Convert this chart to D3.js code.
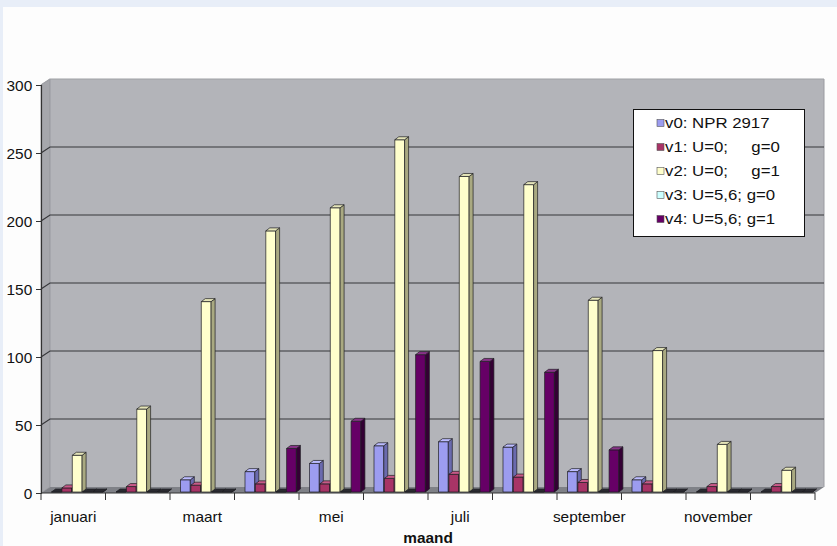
<!DOCTYPE html>
<html>
<head>
<meta charset="utf-8">
<script src="https://cdn.jsdelivr.net/npm/d3@7"></script>
<style>
  body { margin: 0; background: #fdfdfd; }
  svg { display: block; }
  text { font-family: Arial, "Liberation Sans", sans-serif; fill: #111; }
</style>
</head>
<body>
<script>
const months = ["januari", "februari", "maart", "april", "mei", "juni", "juli",
                "augustus", "september", "oktober", "november", "december"];
const seriesKeys = ["v0", "v1", "v2", "v3", "v4"];
const seriesNames = ["v0: NPR 2917", "v1: U=0;     g=0", "v2: U=0;     g=1",
                     "v3: U=5,6; g=0", "v4: U=5,6; g=1"];
const v0 = [0, 0, 9, 15, 21, 34, 37, 33, 15, 9, 0, 0];
const v1 = [3, 4, 5, 6, 6, 10, 13, 11, 7, 6, 4, 4];
const v2 = [27, 61, 140, 192, 209, 259, 232, 226, 141, 104, 35, 16];
const v3 = [0, 0, 0, 0, 0, 0, 0, 0, 0, 0, 0, 0];
const v4 = [0, 0, 0, 32, 52, 101, 96, 88, 31, 0, 0, 0];
const yTicks = [0, 50, 100, 150, 200, 250, 300];

const width = 837, height = 546;
const colors = {
  v0: ["#9c9cf0", "#6a6aae", "#bcbcff"],
  v1: ["#a83466", "#6c1f42", "#c85a88"],
  v2: ["#ffffcc", "#a9a981", "#e4e4b8"],
  v3: ["#ccffff", "#8fb0b0", "#e4ffff"],
  v4: ["#660066", "#340034", "#883388"]
};

window.onload = main;

function main() {
  const values = {v0, v1, v2, v3, v4};
  const svg = d3.select("body").append("svg")
    .attr("width", width).attr("height", height);

  // frame
  svg.append("rect").attr("x", 0).attr("y", 0).attr("width", width).attr("height", 7).attr("fill", "#e8eef8");
  svg.append("rect").attr("x", 0).attr("y", 0).attr("width", 3).attr("height", height).attr("fill", "#e8eef8");

  const x = d3.scaleBand().domain(months).range([41, 815]);
  const inner = d3.scaleBand().domain(seriesKeys).range([10.5, 62.5]);
  const y = d3.scaleLinear().domain([0, 300]).range([493, 85]);
  const dX = 9, dY = 6;   // wall depth

  // walls
  const y0 = y(0), yTop = y(300);
  svg.append("path")
    .attr("d", `M${41 + dX},${yTop - dY}H${815 + dX}V${y0 - dY}H${41 + dX}Z`)
    .attr("fill", "#b3b4b9");
  svg.append("path")
    .attr("d", `M41,${yTop}L${41 + dX},${yTop - dY}V${y0 - dY}L41,${y0}Z`)
    .attr("fill", "#a6a7ac").attr("stroke", "#8a8b90").attr("stroke-width", 0.6);
  svg.append("path")
    .attr("d", `M41,${y0}L${41 + dX},${y0 - dY}H${815 + dX}L815,${y0}Z`)
    .attr("fill", "#7f8187");
  svg.append("path")
    .attr("d", `M${815 + dX},${yTop - dY}V${y0 - dY}`)
    .attr("stroke", "#9a9ba0").attr("stroke-width", 1);

  // gridlines
  svg.append("g").selectAll("path")
    .data(yTicks.filter(d => d > 0))
    .join("path")
    .attr("d", d => `M41,${y(d)}L${41 + dX},${y(d) - dY}H${815 + dX}`)
    .attr("fill", "none")
    .attr("stroke", d => d === 300 ? "#a0a1a6" : "#36373a")
    .attr("stroke-width", 1.2);

  // bars
  const bx = 0, by = -1;   // bars stand slightly behind the front edge
  const ddx = 4, ddy = 3;
  const bw = inner.bandwidth() - 0.6;
  const bars = [];
  months.forEach((m, i) => {
    seriesKeys.forEach(k => {
      bars.push({m, k, v: values[k][i]});
    });
  });
  const g = svg.append("g");
  bars.forEach(b => {
    const x0 = x(b.m) + inner(b.k) + bx;
    const x1 = x0 + bw;
    const bot = y(0) + by;
    const top = y(b.v) + by;
    const c = colors[b.k];
    const bg = g.append("g").attr("stroke", "#1e1e22").attr("stroke-width", 0.7).attr("stroke-linejoin", "round");
    bg.append("path").attr("d", `M${x0},${bot}V${top}H${x1}V${bot}Z`).attr("fill", c[0]);
    bg.append("path").attr("d", `M${x1},${bot}V${top}L${x1 + ddx},${top - ddy}V${bot - ddy}Z`).attr("fill", c[1]);
    bg.append("path").attr("d", `M${x0},${top}L${x0 + ddx},${top - ddy}H${x1 + ddx}L${x1},${top}Z`)
      .attr("fill", b.v === 0 ? "#2a2a30" : c[2]);
  });

  // y axis
  const yAxis = svg.append("g").attr("transform", "translate(41,0)")
    .call(d3.axisLeft(y).tickValues(yTicks).tickSize(5).tickPadding(3));
  yAxis.select(".domain").attr("stroke", "#333").attr("stroke-width", 1.2);
  yAxis.selectAll(".tick line").attr("stroke", "#333");
  yAxis.selectAll(".tick text")
    .attr("font-size", 14).attr("dy", "0.36em")
    .attr("transform", "scale(1.1,1)")
    .style("font-family", "Arial, 'Liberation Sans', sans-serif").attr("fill", "#111");

  // x axis
  svg.append("path").attr("d", `M41,${y0}H815`).attr("stroke", "#333").attr("stroke-width", 1.2);
  const bounds = months.map(m => x(m)).concat([x(months[11]) + x.bandwidth()]);
  svg.append("g").selectAll("line")
    .data(bounds).join("line")
    .attr("x1", d => d).attr("x2", d => d)
    .attr("y1", y0).attr("y2", y0 + 7)
    .attr("stroke", "#333");
  svg.append("g").selectAll("text")
    .data(months.filter((m, i) => i % 2 === 0))
    .join("text")
    .attr("transform", m => `translate(${x(m) + x.bandwidth() / 2},522) scale(1.1,1)`)
    .attr("text-anchor", "middle")
    .attr("font-size", 14)
    .text(m => m);
  svg.append("text")
    .attr("transform", `translate(${(41 + 815) / 2},543) scale(1.1,1)`)
    .attr("text-anchor", "middle")
    .attr("font-size", 14).attr("font-weight", "bold")
    .text("maand");

  // legend
  const lg = svg.append("g");
  lg.append("rect").attr("x", 633.5).attr("y", 109.5).attr("width", 171).attr("height", 127)
    .attr("fill", "#fff").attr("stroke", "#111").attr("stroke-width", 1);
  const items = lg.selectAll("g.item")
    .data(seriesKeys)
    .join("g").attr("class", "item")
    .attr("transform", (d, i) => `translate(657,${123 + i * 24})`);
  items.append("rect").attr("x", 0).attr("y", -3.5).attr("width", 7).attr("height", 7)
    .attr("fill", d => colors[d][0]).attr("stroke", "#555").attr("stroke-width", 0.6);
  items.append("text")
    .attr("transform", "translate(8,5) scale(1.2,1)")
    .attr("font-size", 14)
    .style("white-space", "pre")
    .text((d, i) => seriesNames[i]);
}
</script>
</body>
</html>
